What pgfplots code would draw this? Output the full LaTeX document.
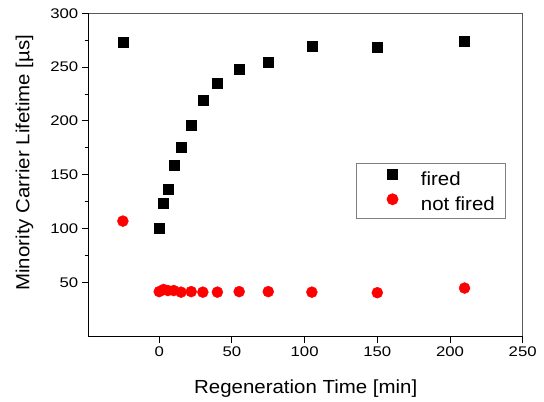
\documentclass[border=0pt]{standalone}
\usepackage{fontspec}
\setmainfont{Liberation Sans}[FakeStretch=1.08]
\newfontfamily\tickfont{Liberation Sans}[FakeStretch=1.2]
\usepackage{pgfplots}
\pgfplotsset{compat=1.18}
\begin{document}
\begin{tikzpicture}
\begin{axis}[
  name=ax,
  scale only axis,
  width=434bp, height=323bp,
  xmin=-48.5, xmax=250,
  ymin=0, ymax=300,
  xtick={0,50,100,150,200,250},
  ytick={50,100,150,200,250,300},
  minor y tick num=1,
  tick pos=left,
  tick align=outside,
  major tick length=7bp,
  minor tick length=4bp,
  major tick style={draw=black, line width=1bp},
  minor tick style={draw=black, line width=1bp},
  axis line style={draw=gray!70!black, line width=0.8bp},
  /pgf/number format/assume math mode=true,
  tick label style={font=\tickfont\fontsize{14}{16}\selectfont},
  xlabel={Regeneration Time [min]},
  ylabel={Minority Carrier Lifetime [µs]},
  label style={font=\fontsize{19}{22}\selectfont},
  xlabel style={at={(rel axis cs:0.5,0)}, anchor=base, inner sep=0pt, yshift=-57bp},
  ylabel style={at={(rel axis cs:0,0.5377)}, anchor=base, inner sep=0pt, yshift=59.4bp},
  legend style={at={(0.962,0.537)}, anchor=north east, draw=gray, line width=0.8bp,
    font=\fontsize{19}{22}\selectfont, inner xsep=8bp, inner ysep=2.5bp, row sep=0bp,
    nodes={inner sep=3bp, text height=16.5bp, text depth=2.5bp}},
  legend cell align=left,
  clip=false,
]
\addplot[only marks, mark=square*, mark size=5bp, draw=black, fill=black,
  legend image code/.code={\path (0bp,0bp) (53bp,0bp); \draw plot coordinates {(28bp,4bp)};}] coordinates {
(-25,273) (0,100) (3,124) (6,137) (10,158.5) (15,176) (22,196) (30,219) (40,235) (55,248) (75,255) (105,269) (150,268.5) (210,274)
};
\addlegendentry{fired}
\addplot[only marks, mark=*, mark size=5.5bp, draw=red, fill=red,
  legend image code/.code={\path (0bp,0bp) (53bp,0bp); \draw plot coordinates {(28bp,4bp)};}] coordinates {
(-25,107) (0,41.5) (3,43.5) (6,42.5) (10,42.5) (15,41) (22,41.5) (30,41) (40,41) (55,41.5) (75,41.5) (105,41) (150,40.5) (210,44.8)
};
\addlegendentry{not fired}
\draw[black, line width=1.2bp] (rel axis cs:0,1) -- (rel axis cs:0,0) -- (rel axis cs:1,0);
\pgfplotsinvokeforeach{0,50,100,150,200,250}{\draw[black, line width=1bp] (axis cs:#1,0) -- ([yshift=-7bp]axis cs:#1,0);}
\pgfplotsinvokeforeach{50,100,150,200,250,300}{\draw[black, line width=1bp] (axis cs:-48.5,#1) -- ([xshift=-7bp]axis cs:-48.5,#1);}
\end{axis}
\pgfresetboundingbox
\path ([shift={(-88.7bp,-65bp)}]ax.south west) rectangle ([shift={(21.3bp,13.3bp)}]ax.north east);
\end{tikzpicture}
\end{document}
